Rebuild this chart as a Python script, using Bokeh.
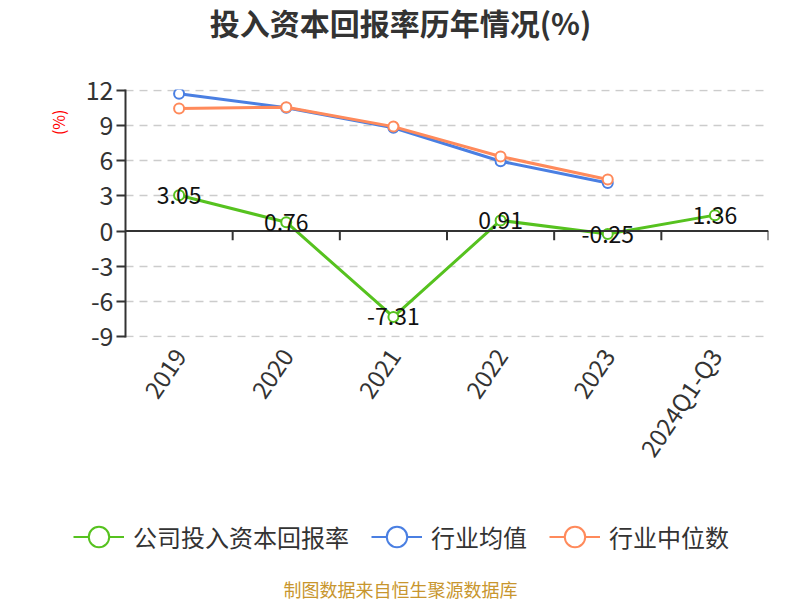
import math
from bokeh.plotting import figure
from bokeh.models import (Range1d, FixedTicker, ColumnDataSource, Span, Label,
                          Legend, LegendItem, LabelSet, Title)
from bokeh.core.properties import value
from bokeh.embed import file_html
from bokeh.resources import INLINE

categories = ["2019", "2020", "2021", "2022", "2023", "2024Q1-Q3"]
company = [3.05, 0.76, -7.31, 0.91, -0.25, 1.36]
industry_avg = [11.7, 10.5, 8.8, 5.95, 4.1]
industry_median = [10.45, 10.55, 8.9, 6.35, 4.4]
y_ticks = [-9, -6, -3, 0, 3, 6, 9, 12]

FONT = "Noto Sans CJK SC"
GREEN = "#56c21f"
BLUE = "#4a7fe2"
ORANGE = "#ff8a5b"
TXT = "#333333"

n = len(categories)
xs = [i + 0.5 for i in range(n)]


def blank_fig(h):
    f = figure(width=800, height=h, output_backend="svg", toolbar_location=None,
               x_range=Range1d(0, 800), y_range=Range1d(0, h), min_border=0,
               x_axis_location=None, y_axis_location=None)
    f.grid.grid_line_color = None
    f.outline_line_color = None
    return f


# ---- title strip ----
ft = blank_fig(60)
ft.add_layout(Label(x=400, y=60 - 21, text="投入资本回报率历年情况(%)",
                    text_font=FONT, text_font_size="30px", text_font_style="bold",
                    text_color=TXT, text_align="center", text_baseline="middle"))

# ---- main chart ----
p = figure(width=800, height=440, output_backend="svg", toolbar_location=None,
           x_range=Range1d(0, n), y_range=Range1d(-9.06, 12.06),
           min_border_left=125, min_border_right=32, min_border_top=29,
           min_border_bottom=163)
p.outline_line_color = None
p.xgrid.grid_line_color = None
p.ygrid.grid_line_color = "#cccccc"
p.ygrid.grid_line_dash = "8 6"
p.ygrid.grid_line_width = 1.5
p.ygrid.ticker = FixedTicker(ticks=[t for t in y_ticks if t != 0])

p.yaxis.ticker = FixedTicker(ticks=y_ticks)
p.yaxis.major_label_overrides = {t: str(t) for t in y_ticks}
p.yaxis.axis_line_color = TXT
p.yaxis.axis_line_width = 2
p.yaxis.major_tick_line_color = TXT
p.yaxis.major_tick_line_width = 2
p.yaxis.major_tick_out = 9
p.yaxis.major_tick_in = 0
p.yaxis.minor_tick_line_color = None
p.yaxis.major_label_text_font = FONT
p.yaxis.major_label_text_font_size = "25px"
p.yaxis.major_label_text_color = TXT
p.yaxis.major_label_standoff = 3

p.add_layout(Title(text="(%)", align="right", offset=20, standoff=26,
                   text_color="#ff0000", text_font=FONT, text_font_size="16px",
                   text_font_style="normal"), "left")

p.xaxis.ticker = FixedTicker(ticks=xs)
p.xaxis.major_label_overrides = {x: c for x, c in zip(xs, categories)}
p.xaxis.axis_line_color = None
p.xaxis.major_tick_line_color = None
p.xaxis.minor_tick_line_color = None
p.xaxis.major_label_orientation = math.radians(56)
p.xaxis.major_label_text_font = FONT
p.xaxis.major_label_text_font_size = "24px"
p.xaxis.major_label_text_color = TXT
p.xaxis.major_label_standoff = 7

# zero axis line with boundary ticks
p.add_layout(Span(location=0, dimension="width", line_color=TXT, line_width=2))
tick_len = 9 * 21.12 / 246
bx = [float(i) for i in range(1, n + 1)]
p.segment(x0=bx, x1=bx, y0=[0] * n, y1=[-tick_len] * n, line_color=TXT, line_width=2)


def series(vals, color):
    src = ColumnDataSource(dict(x=xs[:len(vals)], y=vals))
    p.line("x", "y", source=src, line_color=color, line_width=3)
    p.scatter("x", "y", source=src, size=10, fill_color="white", line_color=color, line_width=2)
    return src


series(industry_avg, BLUE)
series(industry_median, ORANGE)
csrc = series(company, GREEN)
csrc.data["label"] = [f"{v:.2f}" for v in company]
p.add_layout(LabelSet(x="x", y="y", text="label", source=csrc, text_align="center",
                      text_baseline="middle", text_font=value(FONT),
                      text_font_size="23px", text_color="#111111"))

# ---- legend + footer strip ----
fb = blank_fig(100)
items = []
for name, color in [("公司投入资本回报率", GREEN), ("行业均值", BLUE), ("行业中位数", ORANGE)]:
    dummy = ColumnDataSource(dict(x=[float("nan")], y=[float("nan")]))
    r1 = fb.line("x", "y", source=dummy, line_color=color, line_width=2)
    r2 = fb.scatter("x", "y", source=dummy, size=22, fill_color="white", line_color=color, line_width=2)
    items.append(LegendItem(label=name, renderers=[r1, r2]))
legend = Legend(items=items, orientation="horizontal", location=(73, 36),
                label_text_font=FONT, label_text_font_size="24px",
                label_text_color=TXT, glyph_width=51, glyph_height=55,
                spacing=22, label_standoff=9, border_line_color=None,
                background_fill_alpha=0, padding=0, margin=0)
fb.add_layout(legend, "center")
fb.add_layout(Label(x=400, y=12, text="制图数据来自恒生聚源数据库",
                    text_font=FONT, text_font_size="18px", text_color="#c8962e",
                    text_align="center", text_baseline="middle"))

open("out.html", "w").write(file_html([ft, p, fb], INLINE))
